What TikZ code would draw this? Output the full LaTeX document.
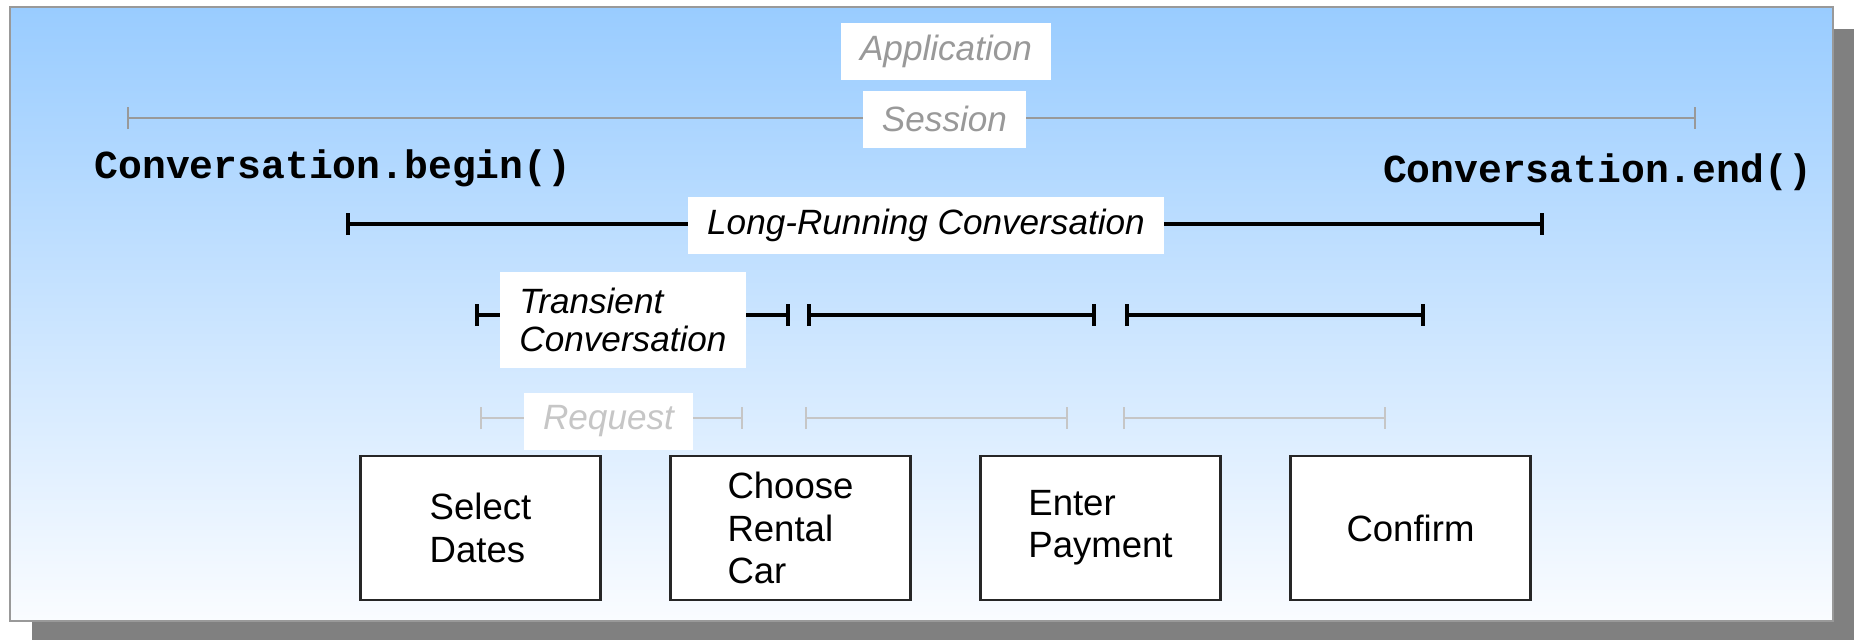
\documentclass[tikz,border=0pt]{standalone}
\usepackage{fontspec}
\setmainfont{Liberation Sans}
\setmonofont{Liberation Mono}
\usepackage{tikz}
\usetikzlibrary{arrows.meta, positioning}

\definecolor{skytop}{RGB}{153,204,255}
\definecolor{skybottom}{RGB}{250,252,255}
\definecolor{shadowgrey}{RGB}{128,128,128}
\definecolor{scopegrey}{RGB}{153,153,153}
\definecolor{requestgrey}{RGB}{198,198,198}

\begin{document}
\begin{tikzpicture}[
    x=0.1mm, y=-0.1mm,
    node distance=7mm,
    tag/.style={fill=white, inner xsep=1.9mm, inner ysep=0pt, minimum height=5.7mm, font=\fontsize{10}{12}\selectfont\itshape},
    span/.style={{Bar[width=2.2mm]}-{Bar[width=2.2mm]}},
    outer/.style={span, draw=scopegrey, line width=0.45pt},
    conv/.style={span, line width=1.15pt},
    req/.style={span, draw=requestgrey, line width=0.6pt},
    call/.style={font=\fontsize{11.3}{14}\selectfont\ttfamily\bfseries},
    pagebox/.style={draw=black!85, line width=0.6pt, fill=white, outer sep=0pt, minimum width=24mm, minimum height=14.4mm, align=left, font=\fontsize{10.4}{12}\selectfont}
]
\useasboundingbox (0,0) rectangle (1854,640);

% Background
\fill[shadowgrey] (32,29) rectangle (1854,640);
\shade[top color=skytop, bottom color=skybottom, draw=scopegrey, line width=0.5pt] (10,7) rectangle (1833,621);

% Interval ends
\coordinate (sesL) at (127,118);
\coordinate (sesR) at (1696,118);
\coordinate (lrcL) at (346,224);
\coordinate (lrcR) at (1544,224);
\coordinate (tc1L) at (475,315);
\coordinate (tc1R) at (790,315);
\coordinate (tc2L) at (807,315);
\coordinate (tc2R) at (1096,315);
\coordinate (tc3L) at (1125,315);
\coordinate (tc3R) at (1425,315);
\coordinate (rq1L) at (480,418);
\coordinate (rq1R) at (743,418);
\coordinate (rq2L) at (805,418);
\coordinate (rq2R) at (1068,418);
\coordinate (rq3L) at (1123,418);
\coordinate (rq3R) at (1386,418);

% Intervals
\draw [outer] (sesL) -- (sesR);
\draw [conv] (lrcL) -- (lrcR);
\draw [conv] (tc1L) -- (tc1R);
\draw [conv] (tc2L) -- (tc2R);
\draw [conv] (tc3L) -- (tc3R);
\draw [req] (rq1L) -- (rq1R);
\draw [req] (rq2L) -- (rq2R);
\draw [req] (rq3L) -- (rq3R);

% Nodes
\node (application) [tag, text=scopegrey] at (946,51) {Application};
\node (session) [tag, text=scopegrey] at (944.5,119) {Session};
\node (convbegin) [call] at (333,168) {Conversation.begin()};
\node (convend) [call] at (1597.5,172) {Conversation.end()};
\node (longrunning) [tag] at (926,225) {Long-Running Conversation};
\node (transient) [tag, align=left, minimum height=9.6mm, font=\fontsize{10}{10.8}\selectfont\itshape] at (623,320) {Transient\\Conversation};
\node (request) [tag, text=requestgrey] at (608.5,421.5) {Request};

% Pages
\node (dates) [pagebox] at (480.5,528) {Select\\Dates};
\node (car) [pagebox, right=of dates] {Choose\\Rental\\Car};
\node (payment) [pagebox, right=of car] {Enter\\Payment};
\node (confirm) [pagebox, right=of payment] {Confirm};

\end{tikzpicture}
\end{document}
